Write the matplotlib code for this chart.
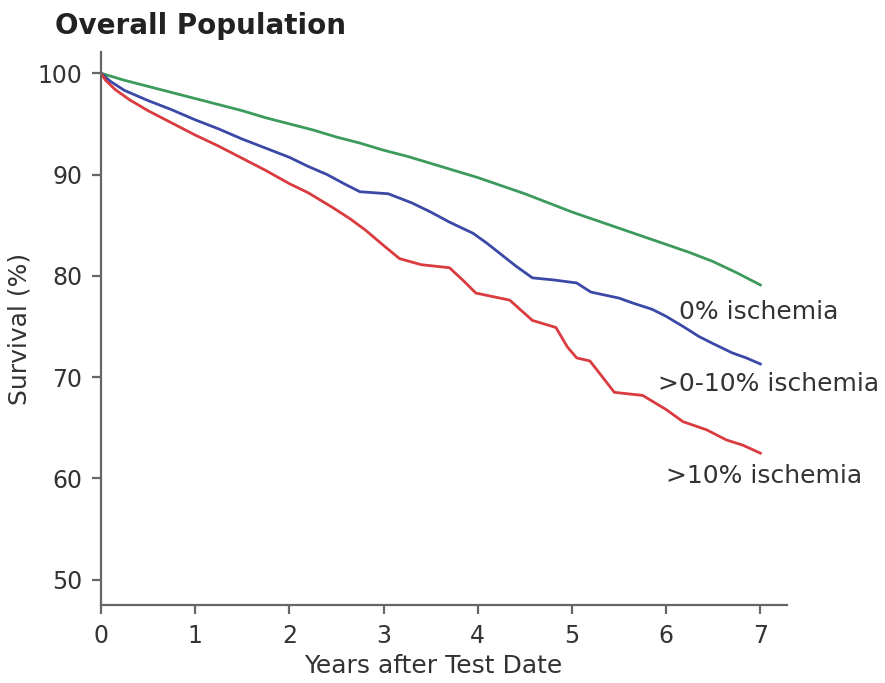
import matplotlib
matplotlib.use("Agg")
import matplotlib.pyplot as plt

plt.rcParams['font.family'] = ['DejaVu Sans']

# ---- data ----
green_t = [0, 0.25, 0.5, 0.75, 1.0, 1.25, 1.5, 1.75, 2.0, 2.25, 2.5, 2.75, 3.0, 3.25, 3.5,
           3.75, 4.0, 4.25, 4.5, 4.75, 5.0, 5.25, 5.5, 5.75, 6.0, 6.25, 6.5, 6.75, 7.0]
green_s = [100, 99.3, 98.7, 98.1, 97.5, 96.9, 96.3, 95.6, 95.0, 94.4, 93.7, 93.1, 92.4, 91.8, 91.1,
           90.4, 89.7, 88.9, 88.1, 87.2, 86.3, 85.5, 84.7, 83.9, 83.1, 82.3, 81.4, 80.3, 79.1]

blue_t = [0, 0.1, 0.25, 0.5, 0.75, 1.0, 1.25, 1.5, 1.75, 2.0, 2.2, 2.4, 2.6, 2.75, 3.05, 3.3,
          3.5, 3.7, 3.95, 4.1, 4.25, 4.4, 4.58, 4.8, 5.05, 5.2, 5.5, 5.65, 5.85, 6.0, 6.18,
          6.35, 6.5, 6.7, 6.85, 7.0]
blue_s = [100, 99.2, 98.3, 97.3, 96.4, 95.4, 94.5, 93.5, 92.6, 91.7, 90.8, 90.0, 89.0, 88.3, 88.1, 87.2,
          86.3, 85.3, 84.2, 83.2, 82.1, 81.0, 79.8, 79.6, 79.3, 78.4, 77.8, 77.3, 76.7, 76.0, 75.0,
          74.0, 73.3, 72.4, 71.9, 71.3]

red_t = [0, 0.05, 0.15, 0.3, 0.5, 0.75, 1.0, 1.25, 1.5, 1.75, 2.0, 2.2, 2.45, 2.65, 2.81, 3.0,
         3.17, 3.4, 3.7, 3.85, 3.98, 4.34, 4.58, 4.83, 4.95, 5.05, 5.19, 5.3, 5.45, 5.75, 6.0,
         6.18, 6.43, 6.64, 6.81, 7.0]
red_s = [100, 99.3, 98.4, 97.4, 96.3, 95.1, 93.9, 92.8, 91.6, 90.4, 89.1, 88.2, 86.8, 85.6, 84.5, 83.0,
         81.7, 81.1, 80.8, 79.5, 78.3, 77.6, 75.6, 74.9, 73.0, 71.9, 71.6, 70.3, 68.5, 68.2, 66.8,
         65.6, 64.8, 63.8, 63.3, 62.5]

labels = ["0% ischemia", ">0-10% ischemia", ">10% ischemia"]
x_ticks = [0, 1, 2, 3, 4, 5, 6, 7]
y_ticks = [50, 60, 70, 80, 90, 100]

# ---- figure ----
fig = plt.figure(figsize=(8.85, 6.83), dpi=100)
ax = fig.add_axes([0.114, 0.114, 0.775, 0.81])

ax.plot(green_t, green_s, color='#3c9a5c', lw=2.0)
ax.plot(blue_t, blue_s, color='#3b48a6', lw=2.0)
ax.plot(red_t, red_s, color='#d93b3f', lw=2.0)

ax.set_xlim(0, 7.28)
ax.set_ylim(47.5, 102.1)
ax.set_xticks(x_ticks)
ax.set_yticks(y_ticks)

for side in ['top', 'right']:
    ax.spines[side].set_visible(False)
for side in ['left', 'bottom']:
    ax.spines[side].set_color('#666666')
    ax.spines[side].set_linewidth(1.6)

ax.tick_params(axis='both', direction='out', length=6.5, width=1.6, color='#666666',
               labelsize=17, labelcolor='#333333', pad=7)

ax.set_xlabel("Years after Test Date", fontsize=18, color='#333333')
ax.xaxis.set_label_coords(0.485, -0.088)
ax.set_ylabel("Survival (%)", fontsize=18, color='#333333', labelpad=4)

ax.text(6.14, 76.4, labels[0], fontsize=18, color='#333333', va='center', ha='left')
ax.text(5.91, 69.3, labels[1], fontsize=18, color='#333333', va='center', ha='left')
ax.text(6.0, 60.2, labels[2], fontsize=18, color='#333333', va='center', ha='left')

fig.text(0.062, 0.962, "Overall Population", fontsize=20, fontweight='bold',
         color='#222222', ha='left', va='center')

fig.savefig("out.png", dpi=100, facecolor='white')
